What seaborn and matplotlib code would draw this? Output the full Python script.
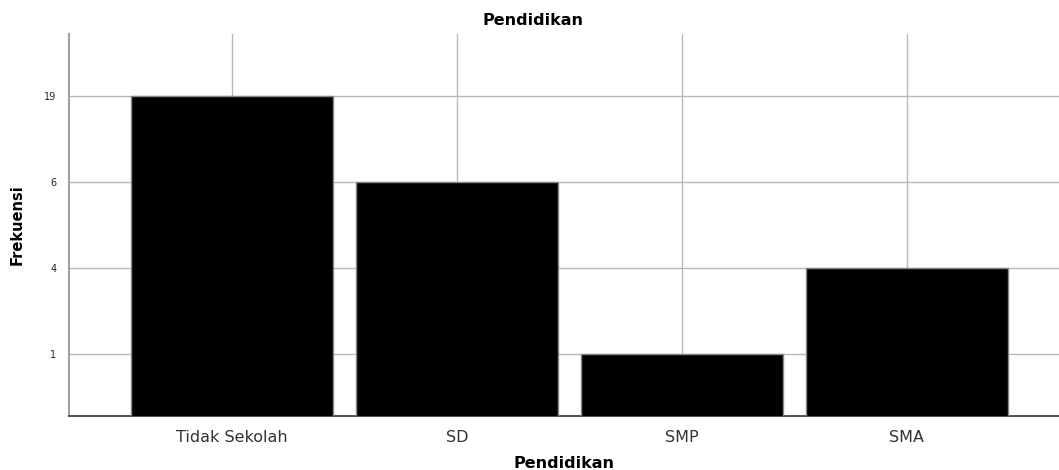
import pandas as pd
import matplotlib
matplotlib.use('Agg')
import matplotlib.pyplot as plt
import seaborn as sns

sns.set_style('white')
plt.rcParams['font.family'] = ['DejaVu Sans']

categories = ['Tidak Sekolah', 'SD', 'SMP', 'SMA']
frekuensi = [19, 6, 1, 4]

# SPSS-style: frequency axis is ordinal, each distinct count gets one step
levels = sorted(set(frekuensi))
rank = {v: i + 1 for i, v in enumerate(levels)}
df = pd.DataFrame({'Pendidikan': categories,
                   'pos': [rank[v] for v in frekuensi]})

fig = plt.figure(figsize=(10.59, 4.7), dpi=100)
ax = fig.add_axes([0.0652, 0.1149, 0.9348, 0.8128])

sns.barplot(data=df, x='Pendidikan', y='pos', order=categories,
            color='black', edgecolor='#888888', linewidth=1,
            width=0.9, saturation=1, ax=ax, zorder=3)

ax.set_xlim(-0.724, 3.676)
ax.set_ylim(0.28, 4.72)
ax.set_yticks(range(1, len(levels) + 1))
ax.set_yticklabels([str(v) for v in levels], fontsize=7)
ax.tick_params(axis='x', labelsize=11.5, labelcolor='#333333', length=0, pad=10)
ax.tick_params(axis='y', labelcolor='#222222', length=0, pad=9)

ax.grid(True, axis='both', color='#b8b8b8', linewidth=1.0, zorder=0)
ax.set_axisbelow(True)

for side in ['top', 'right']:
    ax.spines[side].set_visible(False)
ax.spines['left'].set_color('#a0a0a0')
ax.spines['left'].set_linewidth(1.5)
ax.spines['bottom'].set_color('#333333')
ax.spines['bottom'].set_linewidth(1.2)

fig.text(0.503, 0.957, 'Pendidikan', fontsize=11.5, fontweight='bold',
         ha='center', va='center', color='black')
ax.set_xlabel('Pendidikan', fontsize=11.5, fontweight='bold', labelpad=8,
              color='black')
ax.set_ylabel('Frekuensi', fontsize=10.5, fontweight='bold', labelpad=14,
              color='black')

plt.savefig('out.png', dpi=100)
